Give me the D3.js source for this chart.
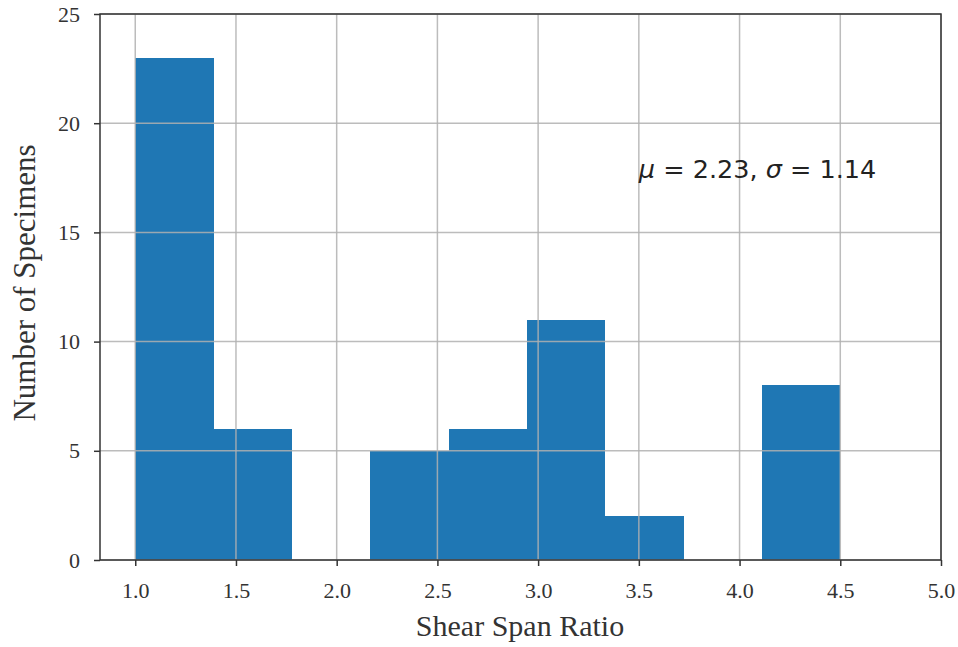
<!DOCTYPE html>
<html>
<head>
<meta charset="utf-8">
<script src="https://cdn.jsdelivr.net/npm/d3@7"></script>
<style>
  html, body { margin: 0; padding: 0; background: #fff; }
  svg { display: block; }
</style>
</head>
<body>
<svg id="chart" width="958" height="647"></svg>
<script>
// Histogram of shear span ratio: bin edges and specimen counts per bin
const binEdges = [1.0, 1.389, 1.778, 2.167, 2.556, 2.944, 3.333, 3.722, 4.111, 4.5];
const counts = [23, 6, 0, 5, 6, 11, 2, 0, 8];
const xTicks = [1.0, 1.5, 2.0, 2.5, 3.0, 3.5, 4.0, 4.5, 5.0];
const yTicks = [0, 5, 10, 15, 20, 25];
const xDomain = [0.825, 5.0];
const yDomain = [0, 25];
const statMu = 2.23, statSigma = 1.14;

const svg = d3.select("#chart");
const margin = { left: 100, right: 17, top: 14, bottom: 87 };
const W = 958, H = 647;
const serif = "'Liberation Serif', 'Times New Roman', serif";

const x = d3.scaleLinear().domain(xDomain).range([margin.left, W - margin.right]);
const y = d3.scaleLinear().domain(yDomain).range([H - margin.bottom, margin.top]);

const bins = counts.map((c, i) => ({ x0: binEdges[i], x1: binEdges[i + 1], n: c }));

// bars (no outline, adjacent bars touch)
svg.append("g").attr("shape-rendering", "crispEdges")
  .selectAll("rect").data(bins.filter(d => d.n > 0)).join("rect")
  .attr("x", d => Math.round(x(d.x0)))
  .attr("width", d => Math.round(x(d.x1)) - Math.round(x(d.x0)))
  .attr("y", d => y(d.n))
  .attr("height", d => y(0) - y(d.n))
  .attr("fill", "#1f77b4");

// grid lines drawn over the bars
const grid = svg.append("g").attr("stroke", "#b0b0b0").attr("stroke-width", 1.5).attr("stroke-opacity", 0.85);
grid.selectAll(".gx").data(xTicks).join("line")
  .attr("x1", d => x(d)).attr("x2", d => x(d))
  .attr("y1", y(yDomain[0])).attr("y2", y(yDomain[1]));
grid.selectAll(".gy").data(yTicks).join("line")
  .attr("y1", d => y(d)).attr("y2", d => y(d))
  .attr("x1", x(xDomain[0])).attr("x2", x(xDomain[1]));

// axes
const xAxis = d3.axisBottom(x).tickValues(xTicks).tickFormat(d3.format(".1f")).tickSize(6).tickPadding(16);
const yAxis = d3.axisLeft(y).tickValues(yTicks).tickFormat(d3.format("d")).tickSize(6).tickPadding(14);

const gx = svg.append("g").attr("transform", `translate(0,${y(0)})`).call(xAxis);
const gy = svg.append("g").attr("transform", `translate(${x(xDomain[0])},0)`).call(yAxis);
[gx, gy].forEach(g => {
  g.select(".domain").remove();
  g.selectAll(".tick line").attr("stroke", "#333").attr("stroke-width", 1.5);
  g.selectAll(".tick text")
    .attr("fill", "#333")
    .style("font-family", serif)
    .style("font-size", "22px");
});

// frame
svg.append("rect")
  .attr("x", x(xDomain[0])).attr("y", y(yDomain[1]))
  .attr("width", x(xDomain[1]) - x(xDomain[0]))
  .attr("height", y(yDomain[0]) - y(yDomain[1]))
  .attr("fill", "none").attr("stroke", "#333").attr("stroke-width", 1.5);

// axis titles
svg.append("text")
  .attr("x", 520)
  .attr("y", 636)
  .attr("text-anchor", "middle")
  .attr("fill", "#333")
  .style("font-family", serif)
  .style("font-size", "30px")
  .text("Shear Span Ratio");

svg.append("text")
  .attr("transform", `translate(35,${283}) rotate(-90)`)
  .attr("text-anchor", "middle")
  .attr("fill", "#333")
  .style("font-family", serif)
  .style("font-size", "31px")
  .text("Number of Specimens");

// statistics annotation
const stat = svg.append("text")
  .attr("x", x(3.5))
  .attr("y", y(17.5))
  .attr("fill", "#222")
  .style("font-family", "'DejaVu Sans', sans-serif")
  .style("font-size", "25.5px");
stat.append("tspan").style("font-style", "italic").text("μ");
stat.append("tspan").text(` = ${statMu.toFixed(2)}, `);
stat.append("tspan").style("font-style", "italic").text("σ");
stat.append("tspan").text(` = ${statSigma.toFixed(2)}`);
</script>
</body>
</html>
